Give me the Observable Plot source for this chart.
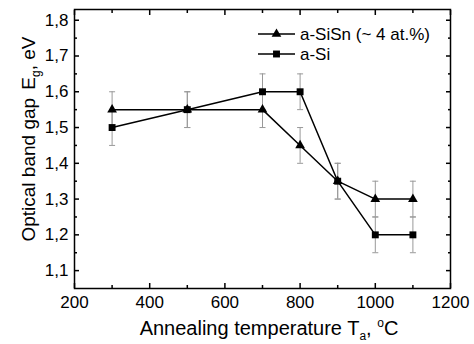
<!DOCTYPE html>
<html><head><meta charset="utf-8">
<script src="https://cdn.jsdelivr.net/npm/d3@7"></script>
<script src="https://cdn.jsdelivr.net/npm/@observablehq/plot@0.6"></script>
<style>body{margin:0;background:#fff}</style>
</head><body><div id="chart"></div>
<script>
const temps = [300, 500, 700, 800, 900, 1000, 1100];
const siSn = [1.55, 1.55, 1.55, 1.45, 1.35, 1.30, 1.30];
const si = [1.50, 1.55, 1.60, 1.60, 1.35, 1.20, 1.20];
const err = [0.05, 0.05, 0.05, 0.05, 0.05, 0.05, 0.05];
const seriesNames = ["a-SiSn (~ 4 at.%)", "a-Si"];
const xMajor = [200, 400, 600, 800, 1000, 1200];
const xMinor = [300, 500, 700, 900, 1100];
const yMajor = [1.1, 1.2, 1.3, 1.4, 1.5, 1.6, 1.7, 1.8];
const yMinor = [1.15, 1.25, 1.35, 1.45, 1.55, 1.65, 1.75];

const rows = [];
temps.forEach((t, i) => {
  rows.push({series: seriesNames[0], x: t, y: siSn[i], e: err[i]});
  rows.push({series: seriesNames[1], x: t, y: si[i], e: err[i]});
});
const capSymbol = {draw(ctx, size) { const w = 3; ctx.moveTo(-w, 0); ctx.lineTo(w, 0); }};
const fmt = d => d.toFixed(1).replace(".", ",");
const font = "Liberation Sans, Arial, sans-serif";
const triR = 3.6, sqR = 3.9;

const plot = Plot.plot({
  width: 474, height: 344,
  marginLeft: 74, marginRight: 24, marginTop: 9, marginBottom: 56,
  style: {fontFamily: font, fontSize: "17px", color: "#000", background: "#fff"},
  x: {domain: [200, 1200]},
  y: {domain: [1.05, 1.83]},
  marks: [
    Plot.ruleX(rows, {x: "x", y1: d => d.y - d.e, y2: d => d.y + d.e, stroke: "#999", strokeWidth: 1}),
    Plot.dot(rows, {x: "x", y: d => d.y - d.e, symbol: capSymbol, stroke: "#999", strokeWidth: 1}),
    Plot.dot(rows, {x: "x", y: d => d.y + d.e, symbol: capSymbol, stroke: "#999", strokeWidth: 1}),
    Plot.line(rows, {x: "x", y: "y", z: "series", stroke: "#000", strokeWidth: 1.5}),
    Plot.dot(rows.filter(d => d.series === seriesNames[0]), {x: "x", y: "y", symbol: "triangle", r: triR, fill: "#000"}),
    Plot.dot(rows.filter(d => d.series === seriesNames[1]), {x: "x", y: "y", symbol: "square", r: sqR, fill: "#000"}),
    Plot.axisX({ticks: xMajor, tickSize: -5, tickPadding: 12, tickFormat: d => `${d}`, label: null, strokeWidth: 1.5}),
    Plot.axisX({ticks: xMinor, tickSize: -3, tickFormat: () => "", label: null, strokeWidth: 1.5}),
    Plot.axisX({anchor: "top", ticks: xMajor, tickSize: -5, tickFormat: () => "", label: null, strokeWidth: 1.5}),
    Plot.axisX({anchor: "top", ticks: xMinor, tickSize: -3, tickFormat: () => "", label: null, strokeWidth: 1.5}),
    Plot.axisY({ticks: yMajor, tickSize: -5, tickPadding: 11, tickFormat: fmt, label: null, strokeWidth: 1.5}),
    Plot.axisY({ticks: yMinor, tickSize: -3, tickFormat: () => "", label: null, strokeWidth: 1.5}),
    Plot.axisY({anchor: "right", ticks: yMajor, tickSize: -5, tickFormat: () => "", label: null, strokeWidth: 1.5}),
    Plot.axisY({anchor: "right", ticks: yMinor, tickSize: -3, tickFormat: () => "", label: null, strokeWidth: 1.5}),
    Plot.frame({stroke: "#000", strokeWidth: 1.5})
  ]
});
document.getElementById("chart").append(plot);

const svg = d3.select(plot);
// X axis label
const xl = svg.append("text").attr("x", 269).attr("y", 335).attr("text-anchor", "middle")
  .attr("font-family", font).attr("font-size", 20).attr("fill", "#000");
xl.append("tspan").text("Annealing temperature T");
xl.append("tspan").attr("font-size", 12).attr("dy", 5).text("a");
xl.append("tspan").attr("dy", -5).text(", ");
xl.append("tspan").attr("font-size", 12).attr("dy", -8).text("o");
xl.append("tspan").attr("dy", 8).text("C");
// Y axis label
const yl = svg.append("text").attr("transform", "translate(35,139) rotate(-90)").attr("text-anchor", "middle")
  .attr("font-family", font).attr("font-size", 19).attr("fill", "#000");
yl.append("tspan").text("Optical band gap ");
yl.append("tspan").attr("dx", 3).text("E");
yl.append("tspan").attr("font-size", 12).attr("dy", 5).text("g");
yl.append("tspan").attr("dy", -5).text(", eV");
// Legend
const leg = svg.append("g").attr("font-family", font).attr("font-size", 17).attr("text-anchor", "start");
const legY = [34, 54];
const syms = [d3.symbolTriangle, d3.symbolSquare];
const sizes = [triR * triR * Math.PI, sqR * sqR * Math.PI];
seriesNames.forEach((name, i) => {
  leg.append("line").attr("x1", 258).attr("x2", 295).attr("y1", legY[i]).attr("y2", legY[i]).attr("stroke", "#000").attr("stroke-width", 1.5);
  leg.append("path").attr("d", d3.symbol(syms[i], sizes[i])()).attr("transform", `translate(276.5,${legY[i]})`).attr("fill", "#000");
  leg.append("text").attr("x", 300).attr("y", legY[i]).attr("dy", "0.35em").attr("fill", "#000").text(name);
});
</script>
</body></html>
